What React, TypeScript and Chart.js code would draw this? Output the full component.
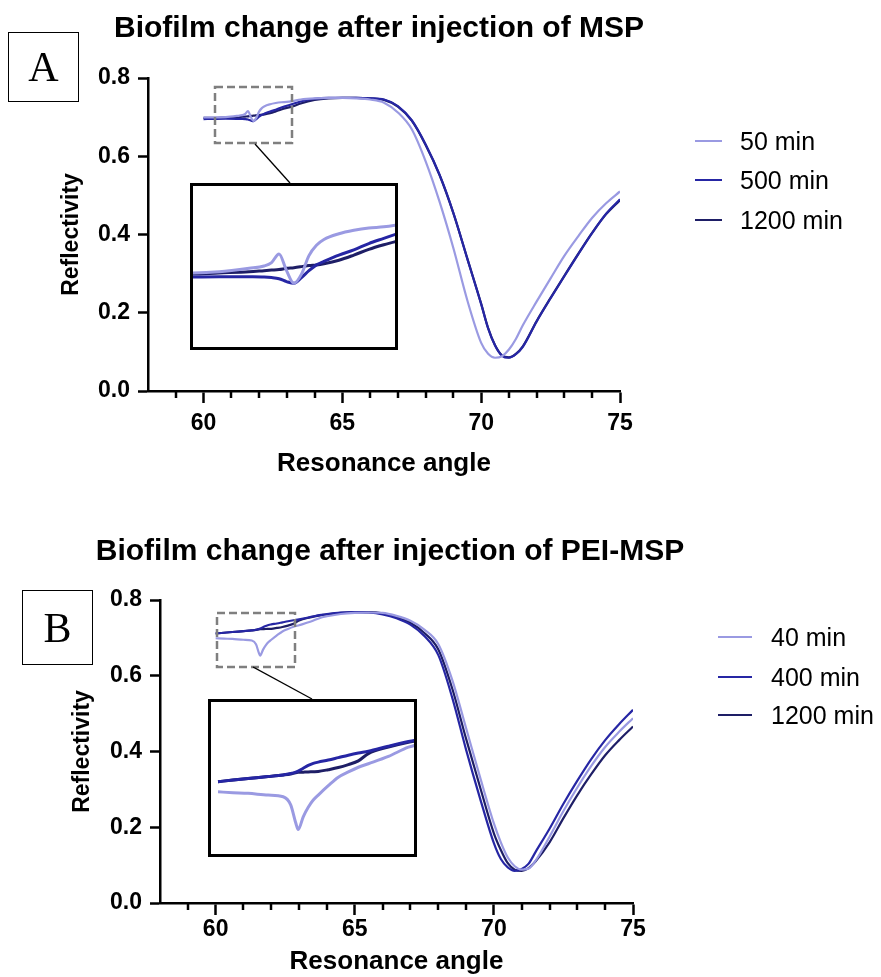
import React, { useEffect, useRef } from 'react';
import { Chart, registerables } from 'chart.js';

Chart.register(...registerables);

// ---------------- Data ----------------
// Panel A: Biofilm change after injection of MSP
const anglesA = [60.0, 60.4, 60.8, 61.2, 61.4, 61.5, 61.6, 61.7, 61.8, 61.9, 62.0, 62.1, 62.2, 62.4, 62.6, 62.8, 63.0, 63.2, 63.5, 64.0, 64.5, 65.0, 65.5, 66.0, 66.5, 67.0, 67.5, 68.0, 68.5, 69.0, 69.5, 70.0, 70.25, 70.5, 70.75, 71.0, 71.25, 71.5, 72.0, 72.5, 73.0, 73.5, 74.0, 74.5, 75.0];
const msp50 = [0.699, 0.699, 0.700, 0.703, 0.705, 0.708, 0.7155, 0.701, 0.690, 0.698, 0.714, 0.723, 0.728, 0.733, 0.736, 0.738, 0.739, 0.741, 0.745, 0.748, 0.749, 0.749, 0.748, 0.745, 0.737, 0.712, 0.669, 0.587, 0.484, 0.365, 0.232, 0.123, 0.095, 0.085, 0.089, 0.106, 0.133, 0.168, 0.229, 0.288, 0.346, 0.396, 0.443, 0.480, 0.510];
const msp500 = [0.695, 0.6955, 0.6958, 0.6957, 0.6955, 0.695, 0.694, 0.6915, 0.690, 0.695, 0.701, 0.706, 0.709, 0.7145, 0.719, 0.7245, 0.729, 0.7335, 0.740, 0.747, 0.749, 0.749, 0.749, 0.748, 0.745, 0.728, 0.692, 0.630, 0.553, 0.455, 0.338, 0.222, 0.160, 0.116, 0.090, 0.085, 0.094, 0.113, 0.178, 0.237, 0.294, 0.350, 0.404, 0.453, 0.490];
const msp1200 = [0.698, 0.698, 0.699, 0.700, 0.701, 0.7015, 0.702, 0.703, 0.7036, 0.7045, 0.7055, 0.706, 0.707, 0.710, 0.7145, 0.7195, 0.7235, 0.727, 0.735, 0.744, 0.748, 0.749, 0.749, 0.748, 0.744, 0.727, 0.691, 0.629, 0.552, 0.454, 0.339, 0.223, 0.161, 0.117, 0.091, 0.086, 0.095, 0.114, 0.179, 0.238, 0.295, 0.351, 0.405, 0.452, 0.488];
const namesA = ['50 min', '500 min', '1200 min'];
const titleA = 'Biofilm change after injection of MSP';

// Panel B: Biofilm change after injection of PEI-MSP
const anglesB = [60.0, 60.3, 60.6, 61.0, 61.3, 61.45, 61.55, 61.6, 61.7, 61.8, 61.9, 62.0, 62.2, 62.4, 62.6, 62.8, 63.0, 63.4, 63.8, 64.0, 64.5, 65.0, 65.5, 66.0, 66.5, 67.0, 67.5, 68.0, 68.5, 69.0, 69.5, 70.0, 70.25, 70.5, 70.75, 71.0, 71.25, 71.5, 72.0, 72.5, 73.0, 73.5, 74.0, 74.5, 75.0];
const pei40 = [0.699, 0.698, 0.6972, 0.695, 0.693, 0.683, 0.661, 0.6528, 0.6683, 0.680, 0.6889, 0.695, 0.7065, 0.717, 0.7235, 0.7292, 0.7335, 0.7425, 0.7538, 0.757, 0.763, 0.766, 0.767, 0.766, 0.758, 0.745, 0.722, 0.684, 0.590, 0.462, 0.333, 0.210, 0.160, 0.120, 0.097, 0.088, 0.091, 0.112, 0.175, 0.243, 0.305, 0.362, 0.412, 0.452, 0.488];
const pei400 = [0.7115, 0.7135, 0.7155, 0.7178, 0.7197, 0.7215, 0.7232, 0.7245, 0.728, 0.7315, 0.734, 0.7355, 0.738, 0.741, 0.744, 0.7466, 0.7488, 0.755, 0.7607, 0.763, 0.767, 0.768, 0.767, 0.762, 0.752, 0.735, 0.705, 0.655, 0.543, 0.405, 0.277, 0.158, 0.116, 0.094, 0.085, 0.090, 0.104, 0.135, 0.196, 0.262, 0.323, 0.380, 0.430, 0.472, 0.510];
const pei1200 = [0.7115, 0.7135, 0.7155, 0.7178, 0.7197, 0.721, 0.7225, 0.7229, 0.7232, 0.7235, 0.7237, 0.724, 0.7262, 0.7288, 0.7325, 0.737, 0.746, 0.754, 0.760, 0.762, 0.766, 0.768, 0.768, 0.765, 0.755, 0.740, 0.713, 0.670, 0.567, 0.434, 0.307, 0.184, 0.140, 0.105, 0.088, 0.085, 0.092, 0.110, 0.160, 0.224, 0.285, 0.340, 0.390, 0.430, 0.466];
const namesB = ['40 min', '400 min', '1200 min'];
const titleB = 'Biofilm change after injection of PEI-MSP';

// Axis ticks
const X_TICKS = [60, 65, 70, 75];
const X_MINOR = [59, 61, 62, 63, 64, 66, 67, 68, 69, 71, 72, 73, 74];
const Y_TICKS = [0, 0.2, 0.4, 0.6, 0.8];

// ---------------- Styles ----------------
const FONT = "'Liberation Sans', Arial, Helvetica, sans-serif";
const SERIF = "'Liberation Serif', 'Times New Roman', serif";
const COLORS = ['#9a9ae2', '#2626a4', '#1e1e66'];

const minorTickPlugin = {
  id: 'minorTicks',
  afterDraw(chart: any, _args: any, opts: any) {
    if (!opts || !opts.values) return;
    const xs = chart.scales.x;
    const ctx = chart.ctx;
    ctx.save();
    ctx.strokeStyle = '#000';
    ctx.lineWidth = opts.width;
    for (const v of opts.values) {
      const px = Math.round(xs.getPixelForValue(v));
      ctx.beginPath();
      ctx.moveTo(px, xs.top);
      ctx.lineTo(px, xs.top + opts.length);
      ctx.stroke();
    }
    ctx.restore();
  },
};

function makeDatasets(angles: number[], series: number[][], names: string[], width: number) {
  return series.map((vals, i) => ({
    label: names[i],
    data: angles.map((a, j) => ({ x: a, y: vals[j] })),
    borderColor: COLORS[i],
    backgroundColor: COLORS[i],
    borderWidth: width,
    pointRadius: 0,
    fill: false,
    cubicInterpolationMode: 'monotone',
  }));
}

function mainConfig(angles: number[], series: number[][], names: string[], g: any) {
  return {
    type: 'line',
    data: { datasets: makeDatasets(angles, series, names, 2.2) },
    options: {
      responsive: false,
      animation: false,
      events: [],
      layout: { padding: { left: 0, right: g.padRight, top: g.padTop, bottom: 0 } },
      plugins: {
        legend: { display: false },
        tooltip: { enabled: false },
        title: { display: false },
        minorTicks: { values: X_MINOR, length: 7, width: 2.5 },
      },
      scales: {
        x: {
          type: 'linear',
          min: 58,
          max: 75,
          afterBuildTicks: (s: any) => { s.ticks = X_TICKS.map((v) => ({ value: v })); },
          afterFit: (s: any) => { s.height = g.xHeight; },
          ticks: { color: '#000', font: { family: FONT, size: g.tickSize, weight: 'bold', lineHeight: 1.2 }, padding: g.xTickPad, maxRotation: 0, autoSkip: false },
          grid: { drawOnChartArea: false, drawTicks: true, tickLength: 12, tickWidth: 2.5, tickColor: '#000' },
          border: { display: true, color: '#000', width: 2.5 },
          title: { display: true, text: 'Resonance angle', color: '#000', font: { family: FONT, size: g.xTitleSize, weight: 'bold', lineHeight: 1.2 }, padding: { top: 0, bottom: g.xTitlePad } },
        },
        y: {
          type: 'linear',
          min: 0,
          max: 0.8,
          afterBuildTicks: (s: any) => { s.ticks = Y_TICKS.map((v) => ({ value: v })); },
          afterFit: (s: any) => { s.width = g.yWidth; },
          ticks: { color: '#000', font: { family: FONT, size: g.tickSize, weight: 'bold' }, padding: g.yTickPad, callback: (v: any) => Number(v).toFixed(1) },
          grid: { drawOnChartArea: false, drawTicks: true, tickLength: 10, tickWidth: 2.5, tickColor: '#000' },
          border: { display: true, color: '#000', width: 2.5 },
          title: { display: true, text: 'Reflectivity', color: '#000', font: { family: FONT, size: g.yTitleSize, weight: 'bold', lineHeight: 1.2 }, padding: { top: g.yTitlePad, bottom: 0 } },
        },
      },
    },
    plugins: [minorTickPlugin],
  };
}

function insetConfig(angles: number[], series: number[][], names: string[], r: any) {
  return {
    type: 'line',
    data: { datasets: makeDatasets(angles, series, names, 3) },
    options: {
      responsive: false,
      animation: false,
      events: [],
      layout: { padding: 0 },
      plugins: { legend: { display: false }, tooltip: { enabled: false }, title: { display: false } },
      scales: {
        x: { type: 'linear', display: false, min: r.x0, max: r.x1 },
        y: { type: 'linear', display: false, min: r.y0, max: r.y1 },
      },
    },
  };
}

function ChartBox({ config, left, top, width, height, border }: any) {
  const ref = useRef<HTMLCanvasElement>(null);
  useEffect(() => {
    const chart = new Chart(ref.current as HTMLCanvasElement, config);
    return () => chart.destroy();
  }, []);
  const b = border || 0;
  return (
    <div style={{ position: 'absolute', left, top, width: width - 2 * b, height: height - 2 * b, border: b ? `${b}px solid #000` : 'none', background: b ? '#fff' : 'transparent' }}>
      <canvas ref={ref} width={width - 2 * b} height={height - 2 * b} style={{ display: 'block', width: width - 2 * b, height: height - 2 * b }} />
    </div>
  );
}

function Title({ text, centerX, centerY, size }: any) {
  return (
    <div style={{ position: 'absolute', left: centerX - 400, width: 800, top: centerY - size * 0.6, height: size * 1.2, lineHeight: `${size * 1.2}px`, textAlign: 'center', fontFamily: FONT, fontWeight: 'bold', fontSize: size, color: '#000', whiteSpace: 'nowrap' }}>{text}</div>
  );
}

function Legend({ names, lineLeft, lineWidth, textLeft, centers, size }: any) {
  return (
    <>
      {names.map((n: string, i: number) => (
        <React.Fragment key={n}>
          <div style={{ position: 'absolute', left: lineLeft, top: centers[i] - 1, width: lineWidth, height: 2, background: COLORS[i] }} />
          <div style={{ position: 'absolute', left: textLeft, top: centers[i] - size * 0.6, height: size * 1.2, lineHeight: `${size * 1.2}px`, fontFamily: FONT, fontSize: size, color: '#000', whiteSpace: 'nowrap' }}>{n}</div>
        </React.Fragment>
      ))}
    </>
  );
}

function Letter({ ch, left, top, width, height }: any) {
  return (
    <div style={{ position: 'absolute', left, top, width: width - 3, height: height - 3, border: '1.5px solid #000', display: 'flex', alignItems: 'center', justifyContent: 'center', fontFamily: SERIF, fontSize: 42, color: '#000', lineHeight: 1 }}>{ch}</div>
  );
}

const geoA = { padTop: 78, padRight: 261, yWidth: 148, xHeight: 99, tickSize: 23, xTickPad: 7, yTickPad: 8, xTitleSize: 26, yTitleSize: 23, xTitlePad: 11, yTitlePad: 58.2 };
const geoB = { padTop: 110, padRight: 248, yWidth: 160, xHeight: 74, tickSize: 23, xTickPad: 1, yTickPad: 8, xTitleSize: 26, yTitleSize: 23, xTitlePad: 0, yTitlePad: 69.2 };

export default function App() {
  useEffect(() => {
    document.body.style.margin = '0';
    document.body.style.background = '#fff';
  }, []);
  const seriesA = [msp50, msp500, msp1200];
  const seriesB = [pei40, pei400, pei1200];
  return (
    <div style={{ position: 'relative', width: 881, height: 977, background: '#fff', overflow: 'hidden' }}>
      <ChartBox config={mainConfig(anglesA, seriesA, namesA, geoA)} left={0} top={0} width={881} height={490} />
      <ChartBox config={mainConfig(anglesB, seriesB, namesB, geoB)} left={0} top={490} width={881} height={487} />
      <Title text={titleA} centerX={379} centerY={27} size={30} />
      <Title text={titleB} centerX={390} centerY={550} size={30} />
      <svg width={881} height={977} style={{ position: 'absolute', left: 0, top: 0, pointerEvents: 'none' }}>
        <rect x={215} y={87} width={77} height={56} fill="none" stroke="#7f7f7f" strokeWidth={2.5} strokeDasharray="8 4" />
        <line x1={255} y1={144} x2={290} y2={183} stroke="#000" strokeWidth={1.3} />
        <rect x={217} y={613} width={78} height={54} fill="none" stroke="#7f7f7f" strokeWidth={2.5} strokeDasharray="8 4" />
        <line x1={253} y1={667} x2={312} y2={699} stroke="#000" strokeWidth={1.3} />
      </svg>
      <ChartBox config={insetConfig(anglesA, seriesA, namesA, { x0: 60.45, x1: 63.15, y0: 0.6348, y1: 0.7744 })} left={190} top={183} width={208} height={167} border={3} />
      <ChartBox config={insetConfig(anglesB, seriesB, namesB, { x0: 59.86, x1: 63.91, y0: 0.6227, y1: 0.8093 })} left={208} top={699} width={209} height={158} border={3} />
      <Legend names={namesA} lineLeft={695} lineWidth={27} textLeft={740} centers={[141, 180, 220]} size={25} />
      <Legend names={namesB} lineLeft={718} lineWidth={34} textLeft={771} centers={[637, 677, 715]} size={25} />
      <Letter ch="A" left={8} top={32} width={72} height={71} />
      <Letter ch="B" left={22} top={590} width={72} height={76} />
    </div>
  );
}
